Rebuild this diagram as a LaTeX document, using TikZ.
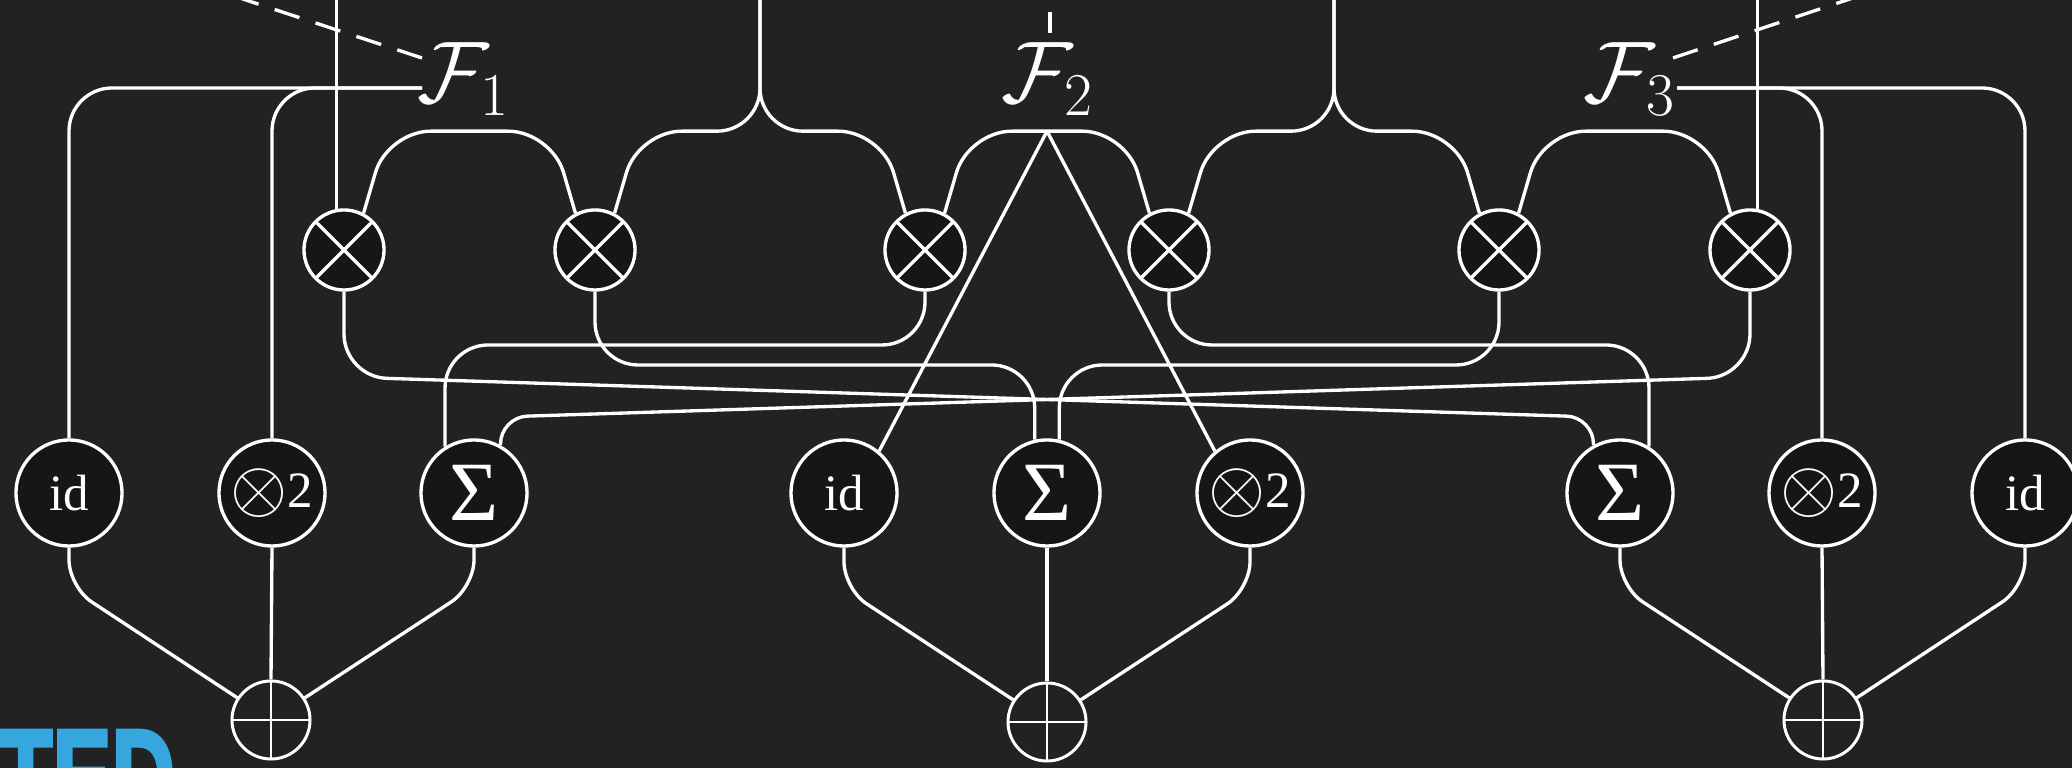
\documentclass[tikz,border=0pt]{standalone}
\usepackage{fontspec}
\setmainfont{Liberation Serif}
\newfontfamily\tedfont{Liberation Sans}[BoldFeatures={FakeBold=3}]
\usetikzlibrary{calc}
\definecolor{bgc}{HTML}{222222}
\definecolor{nfill}{HTML}{161616}
\definecolor{tedblue}{HTML}{36A7DE}
\newcommand{\sqlabel}{\raisebox{-0.08em}{\scalebox{1.45}{$\otimes$}}2}
\begin{document}
\begin{tikzpicture}[x=0.01cm,y=-0.01cm,
  wire/.style={draw=white,line width=0.95pt},
  xnode/.style={circle,draw=white,line width=0.95pt,fill=nfill,minimum size=0.8cm,inner sep=0pt,
    path picture={\draw[white,line width=0.95pt] (path picture bounding box.north west) -- (path picture bounding box.south east) (path picture bounding box.north east) -- (path picture bounding box.south west);}},
  pnode/.style={circle,draw=white,line width=0.85pt,fill=bgc,minimum size=0.78cm,inner sep=0pt,
    path picture={\draw[white,line width=0.75pt] (path picture bounding box.north) -- (path picture bounding box.south) (path picture bounding box.west) -- (path picture bounding box.east);}},
  fnode/.style={circle,draw=white,line width=0.95pt,fill=nfill,minimum size=1.06cm,inner sep=0pt,text=white,font=\fontsize{14.5}{14.5}\selectfont},
  flabel/.style={text=white,inner sep=0pt,font=\fontsize{24}{24}\selectfont},
  dashwire/.style={wire,dash pattern=on 0.26cm off 0.17cm},
  roundA/.style={rounded corners=0.43cm},
  roundB/.style={rounded corners=0.27cm}]
\useasboundingbox (0,0) rectangle (2072,768);
\fill[bgc] (0,0) rectangle (2072,768);
\clip (0,0) rectangle (2072,768);

% blue logo text
\node[anchor=north west,inner sep=0pt,text=tedblue,font=\tedfont\bfseries\fontsize{38}{38}\selectfont] (ted) at (-2,730) {\scalebox{0.66}[1]{TED}};

% multiplication nodes
\node[xnode] (o1) at (344,250) {};
\node[xnode] (o2) at (595,250) {};
\node[xnode] (o3) at (925,250) {};
\node[xnode] (o4) at (1169,250) {};
\node[xnode] (o5) at (1499,250) {};
\node[xnode] (o6) at (1750,250) {};

% function nodes
\node[fnode] (id1) at (69,493) {id};
\node[fnode] (sq1) at (272,493) {\sqlabel};
\node[fnode] (sm1) at (474,493) {\fontsize{24}{24}\selectfont Σ};
\node[fnode] (id2) at (844,493) {id};
\node[fnode] (sm2) at (1047,493) {\fontsize{24}{24}\selectfont Σ};
\node[fnode] (sq2) at (1250,493) {\sqlabel};
\node[fnode] (sm3) at (1620,493) {\fontsize{24}{24}\selectfont Σ};
\node[fnode] (sq3) at (1822,493) {\sqlabel};
\node[fnode] (id3) at (2025,493) {id};

% sum nodes
\node[pnode] (p1) at (271,720) {};
\node[pnode] (p2) at (1047,722) {};
\node[pnode] (p3) at (1823,720) {};

% labels
\node[flabel] (F1) at (464,79) {$\mathcal{F}_1$};
\node[flabel] (F2) at (1048,79) {$\mathcal{F}_2$};
\node[flabel] (F3) at (1630,79) {$\mathcal{F}_3$};

\coordinate (top) at (0,-10);
\coordinate (s1) at (760,-10);
\coordinate (s2) at (1334,-10);
\coordinate (f1) at (422,88);
\coordinate (f3) at (1677,88);
\coordinate (f1d) at (422,58);
\coordinate (f3d) at (1673,58);
\coordinate (d1) at (100,-48);
\coordinate (d3) at (2000,-51);
\coordinate (tk1) at (1050,12);
\coordinate (tk2) at (1050,33);

% top wires
\draw[wire] (o1.100) -- (o1.100 |- top);
\draw[wire] (o6.80) -- (o6.80 |- top);
\draw[wire,roundA] (o2.62) -- ++(24,-82) -| (s1);
\draw[wire,roundA] (o3.118) -- ++(-24,-82) -| (s1);
\draw[wire,roundA] (o4.62) -- ++(24,-82) -| (s2);
\draw[wire,roundA] (o5.118) -- ++(-24,-82) -| (s2);
\draw[wire,roundA] (o1.62) -- ++(24,-82) -- ($(o2.118)+(-24,-82)$) -- (o2.118);
\draw[wire,roundA] (o3.62) -- ++(24,-82) coordinate (capl) -- ($(o4.118)+(-24,-82)$) coordinate (capr) -- (o4.118);
\draw[wire,roundA] (o5.62) -- ++(24,-82) -- ($(o6.118)+(-24,-82)$) -- (o6.118);
\coordinate (apex) at ($(capl)!0.5!(capr)$);
\draw[wire] (apex) -- (id2.50);
\draw[wire] (apex) -- (sq2.130);
\draw[wire] (tk1) -- (tk2);

% label wires
\draw[wire,roundA] (f1) -| (id1.north);
\draw[wire,roundA] (f1) -| (sq1.north);
\draw[wire,roundA] (f3) -| (id3.north);
\draw[wire,roundA] (f3) -| (sq3.north);
\draw[dashwire] (f1d) -- (d1);
\draw[dashwire] (f3d) -- (d3);

% crossing wires
\path (o1.south |- 0,377) coordinate (a1) (sm3.119 |- 0,417) coordinate (b1);
\draw[wire,roundA] (o1.south) -- (a1) -- ($(a1)!0.5!(b1)$);
\draw[wire,roundB] ($(a1)!0.5!(b1)$) -- (b1) -- (sm3.119);
\path (o6.south |- 0,377) coordinate (a2) (sm1.61 |- 0,417) coordinate (b2);
\draw[wire,roundA] (o6.south) -- (a2) -- ($(a2)!0.5!(b2)$);
\draw[wire,roundB] ($(a2)!0.5!(b2)$) -- (b2) -- (sm1.61);

\draw[wire,roundA] (o2.south) -- (o2.south |- 0,365) -| (sm2.103);
\draw[wire,roundA] (o5.south) -- (o5.south |- 0,365) -| (sm2.77);
\draw[wire,roundA] (o3.south) -- (o3.south |- 0,345) -| (sm1.122);
\draw[wire,roundA] (o4.south) -- (o4.south |- 0,345) -| (sm3.58);

% bottom wires
\draw[wire,roundB] (id1.south) -- (id1.south |- 0,587) -- (p1);
\draw[wire] (sq1.south) -- (p1.north);
\draw[wire,roundB] (sm1.south) -- (sm1.south |- 0,587) -- (p1);
\draw[wire,roundB] (id2.south) -- (id2.south |- 0,589) -- (p2);
\draw[wire] (sm2.south) -- (p2.north);
\draw[wire,roundB] (sq2.south) -- (sq2.south |- 0,589) -- (p2);
\draw[wire,roundB] (sm3.south) -- (sm3.south |- 0,587) -- (p3);
\draw[wire] (sq3.south) -- (p3.north);
\draw[wire,roundB] (id3.south) -- (id3.south |- 0,587) -- (p3);
\end{tikzpicture}
\end{document}
